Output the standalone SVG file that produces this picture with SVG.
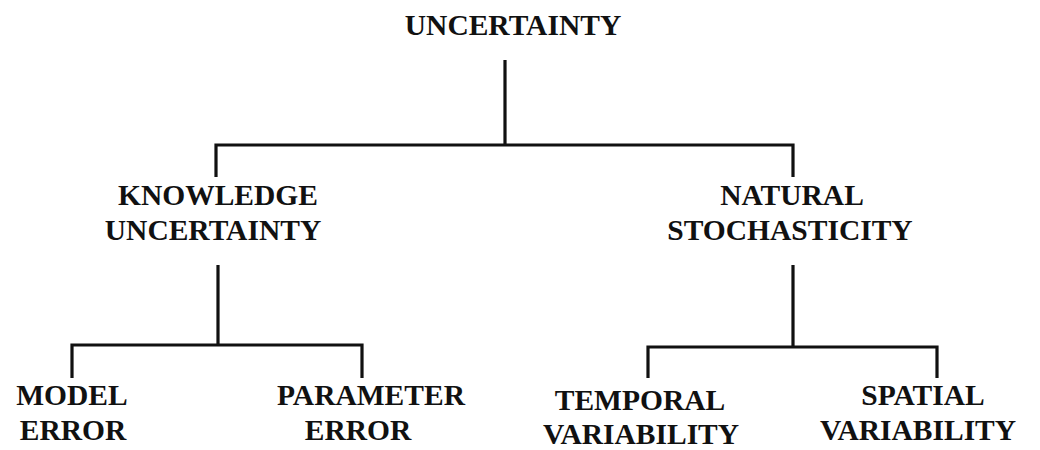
<svg xmlns="http://www.w3.org/2000/svg" width="1040" height="450" viewBox="0 0 1040 450">
<style>
text{font-family:"Liberation Serif","Times New Roman",serif;font-weight:bold;font-size:29.5px;fill:#111;text-anchor:middle}
.c{fill:none;stroke:#111;stroke-width:3.2;stroke-linecap:butt;stroke-linejoin:miter}
</style>
<rect width="1040" height="450" fill="#fff"/>
<g id="connectors">
<path class="c" d="M505 60V145M216 177V145H793V177"/>
<path class="c" d="M218 265V345M72 378V345H362V378"/>
<path class="c" d="M793 265V347M648 378V347H937V378"/>
</g>
<g id="n-uncertainty"><text x="513" y="35">UNCERTAINTY</text></g>
<g id="n-knowledge"><text x="218" y="205">KNOWLEDGE</text><text x="213" y="240">UNCERTAINTY</text></g>
<g id="n-natural"><text x="792" y="205">NATURAL</text><text x="790" y="240">STOCHASTICITY</text></g>
<g id="n-model"><text x="72" y="405">MODEL</text><text x="73" y="440">ERROR</text></g>
<g id="n-parameter"><text x="371" y="405">PARAMETER</text><text x="358" y="440">ERROR</text></g>
<g id="n-temporal"><text x="640" y="410">TEMPORAL</text><text x="641" y="444">VARIABILITY</text></g>
<g id="n-spatial"><text x="923" y="405">SPATIAL</text><text x="918" y="440">VARIABILITY</text></g>
</svg>
